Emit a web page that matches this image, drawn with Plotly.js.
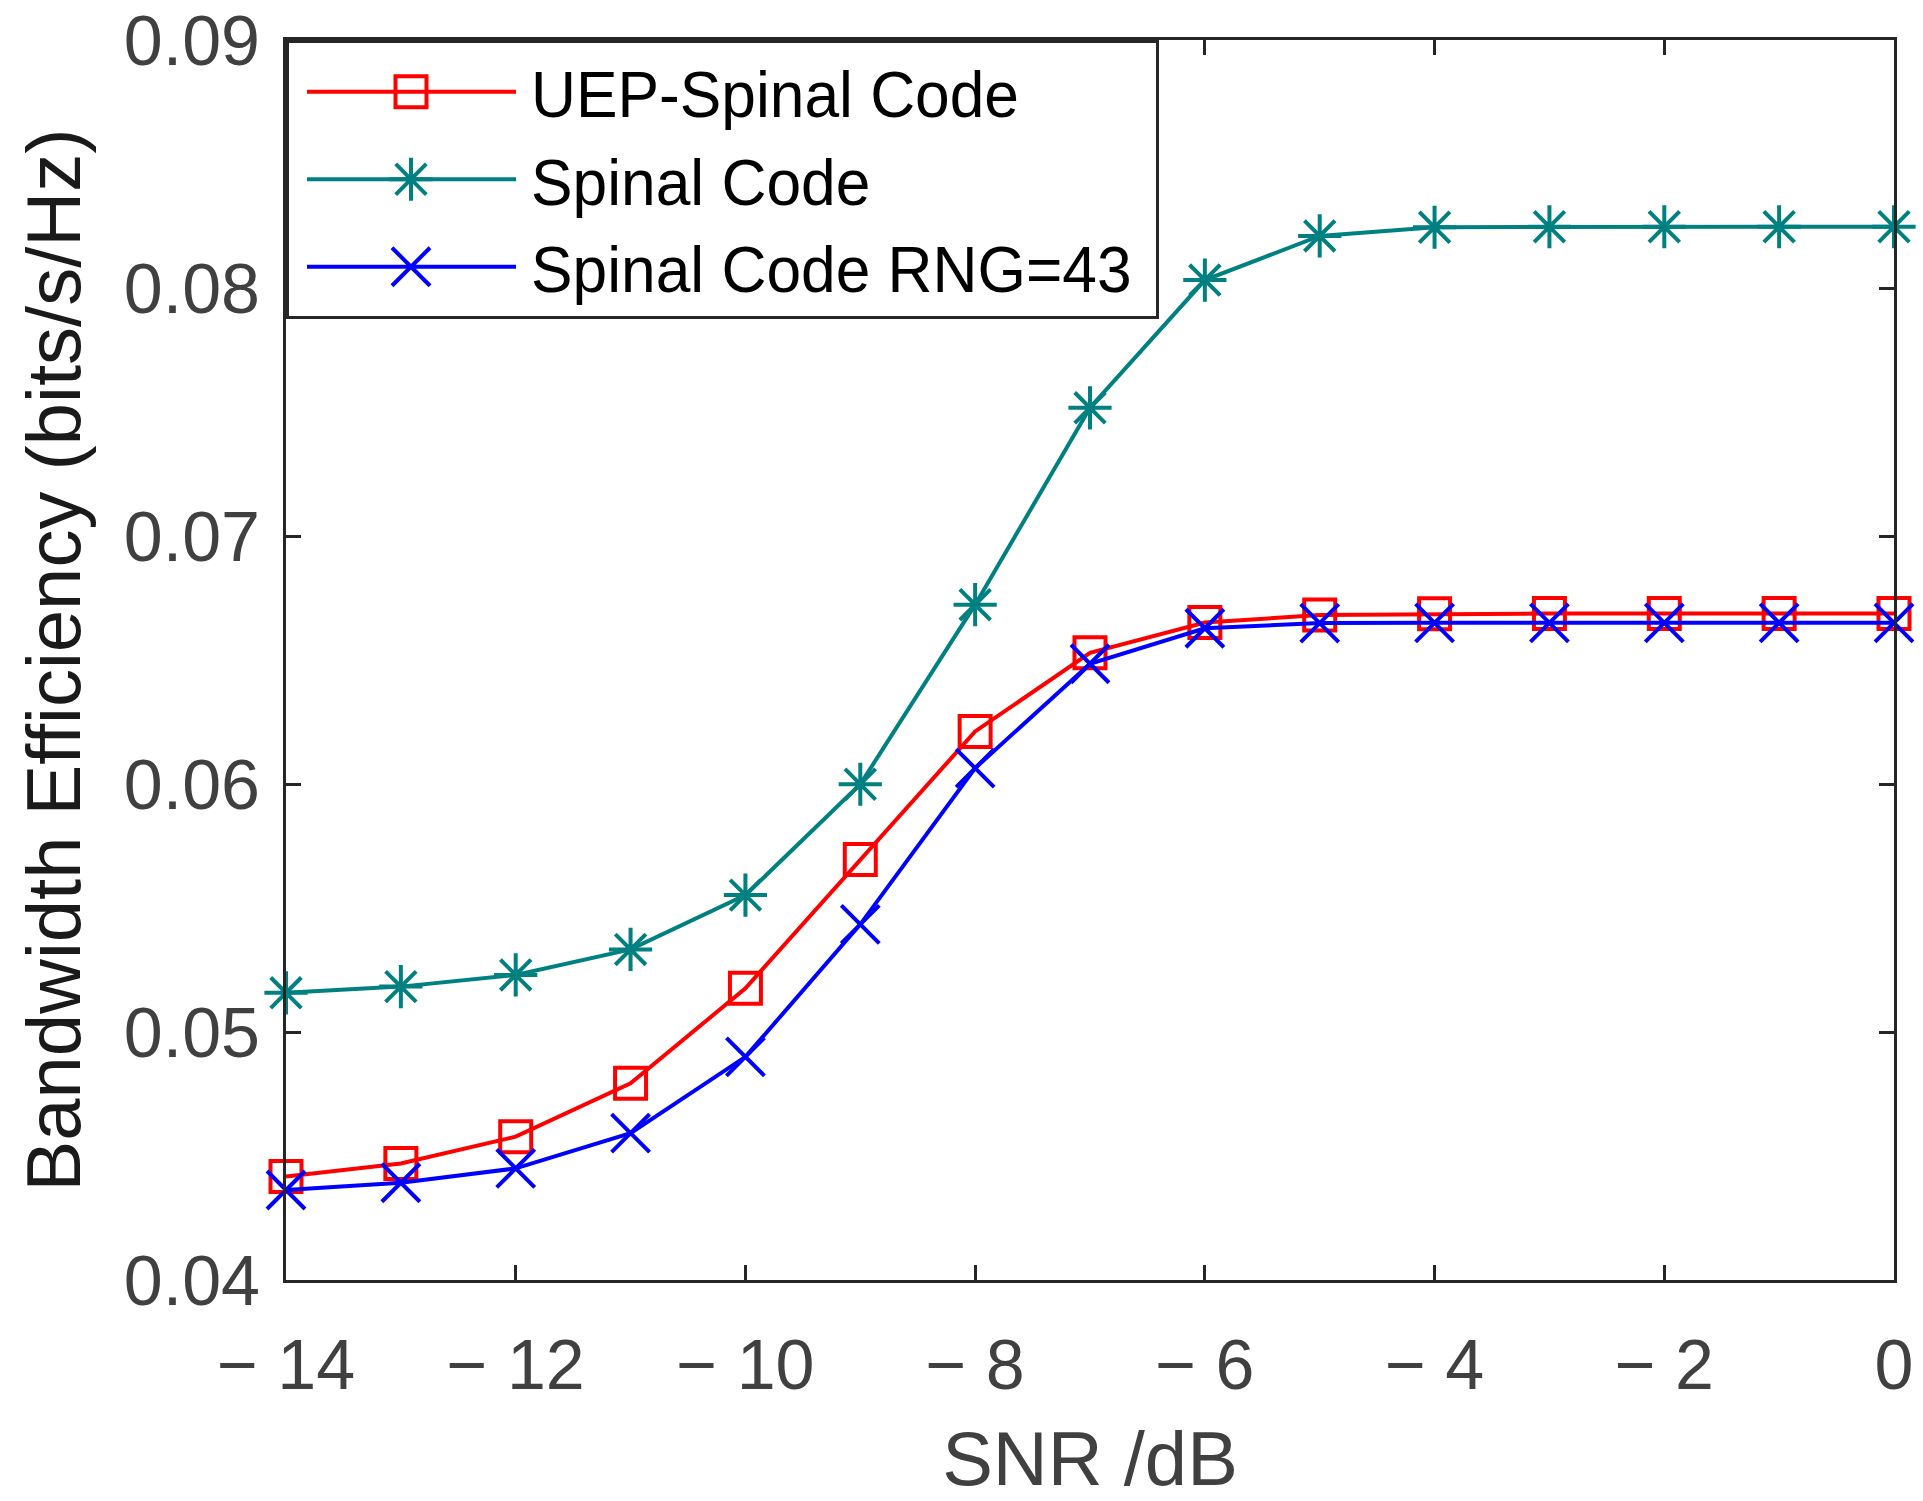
<!DOCTYPE html>
<html>
<head>
<meta charset="utf-8">
<script src="https://cdn.plot.ly/plotly-3.0.1.min.js"></script>
<style>
  html, body { margin: 0; padding: 0; background: #ffffff; }
  #plot { width: 1923px; height: 1501px; }
</style>
</head>
<body>
<div id="plot"></div>
<script>
// ---- data ----
var snr = [-14, -13, -12, -11, -10, -9, -8, -7, -6, -5, -4, -3, -2, -1, 0];
var uepSpinal = [0.04417, 0.04470, 0.04578, 0.04793, 0.05176, 0.05696, 0.06212, 0.06529, 0.06651, 0.06681, 0.06686, 0.06687, 0.06687, 0.06687, 0.06687];
var spinal = [0.05158, 0.05183, 0.05230, 0.05333, 0.05552, 0.05999, 0.06723, 0.07517, 0.08032, 0.08210, 0.08245, 0.08247, 0.08247, 0.08247, 0.08247];
var spinalRng = [0.04363, 0.04392, 0.04450, 0.04592, 0.04900, 0.05434, 0.06064, 0.06485, 0.06628, 0.06649, 0.06650, 0.06650, 0.06650, 0.06650, 0.06650];
var seriesNames = ['UEP-Spinal Code', 'Spinal Code', 'Spinal Code RNG=43'];
var xTickVals = [-14, -12, -10, -8, -6, -4, -2, 0];
var xTickText = ['\u2212 14', '\u2212 12', '\u2212 10', '\u2212 8', '\u2212 6', '\u2212 4', '\u2212 2', '0'];
var yTickVals = [0.04, 0.05, 0.06, 0.07, 0.08, 0.09];
var yTickText = ['0.04', '0.05', '0.06', '0.07', '0.08', '0.09'];

var FONT = 'Liberation Sans, Arial, Helvetica, sans-serif';
var AXC = '#262626';

function mk(y, name, color, symbol, size) {
  return {
    type: 'scatter', mode: 'lines+markers', x: snr, y: y, name: name,
    line: {color: color, width: 4},
    marker: {symbol: symbol, size: size, color: color, line: {color: color, width: 4}},
    cliponaxis: false
  };
}

var traces = [
  mk(uepSpinal, seriesNames[0], '#ff0000', 'square-open', 31),
  mk(spinal, seriesNames[1], '#008080', 'asterisk-open', 36),
  mk(spinalRng, seriesNames[2], '#0000ff', 'x-thin-open', 38)
];

var axisCommon = {
  showline: true, linecolor: AXC, linewidth: 3, mirror: 'ticks',
  ticks: 'inside', ticklen: 15, tickwidth: 3, tickcolor: AXC,
  showgrid: false, zeroline: false,
  tickfont: {family: FONT, size: 70, color: '#404040'}
};

var layout = {
  width: 1923, height: 1501,
  paper_bgcolor: '#ffffff', plot_bgcolor: '#ffffff',
  margin: {l: 286, r: 29, t: 40, b: 221, autoexpand: false},
  showlegend: true,
  legend: {
    x: 0, y: 1, xanchor: 'left', yanchor: 'top', xref: 'paper', yref: 'paper',
    bgcolor: '#ffffff', bordercolor: AXC, borderwidth: 3,
    font: {family: FONT, size: 65, color: '#000000'},
    itemwidth: 232, tracegroupgap: 0
  },
  xaxis: Object.assign({}, axisCommon, {
    range: [-14, 0], tickmode: 'array', tickvals: xTickVals, ticktext: xTickText,
    ticklabelstandoff: 22,
    title: {text: 'SNR /dB', font: {family: FONT, size: 76, color: '#404040'}, standoff: 29}
  }),
  yaxis: Object.assign({}, axisCommon, {
    range: [0.04, 0.09], tickmode: 'array', tickvals: yTickVals, ticktext: yTickText,
    ticklabelstandoff: 9,
    title: {text: 'Bandwidth Efficiency (bits/s/Hz)', font: {family: FONT, size: 76, color: '#1a1a1a'}, standoff: 19}
  })
};

Plotly.newPlot('plot', traces, layout, {staticPlot: true, displayModeBar: false}).then(function (gd) {
  // stretch legend samples to look like the reference (long line, full-size marker)
  var plotTraces = gd.querySelectorAll('.scatterlayer .trace');
  var legItems = gd.querySelectorAll('.legend .traces');
  legItems.forEach(function (g, i) {
    g.querySelectorAll('path.js-line').forEach(function (p) {
      p.setAttribute('d', 'M18,0h209');
      p.style.strokeWidth = '4px';
    });
    var src = plotTraces[i] ? plotTraces[i].querySelector('.points path') : null;
    g.querySelectorAll('.legendpoints path.scatterpts').forEach(function (p) {
      if (src) p.setAttribute('d', src.getAttribute('d'));
      p.setAttribute('transform', 'translate(122,0)');
      p.style.strokeWidth = '4px';
    });
    // slightly condensed legend lettering, as in the reference
    g.querySelectorAll('text.legendtext').forEach(function (t) {
      var len = t.getComputedTextLength();
      t.setAttribute('textLength', (len * 0.958).toFixed(1));
      t.setAttribute('lengthAdjust', 'spacingAndGlyphs');
    });
  });
  var bg = gd.querySelector('.legend rect.bg');
  if (bg) {
    var w = parseFloat(bg.getAttribute('width'));
    bg.setAttribute('width', (w - 7).toFixed(1));
  }
});
</script>
</body>
</html>
